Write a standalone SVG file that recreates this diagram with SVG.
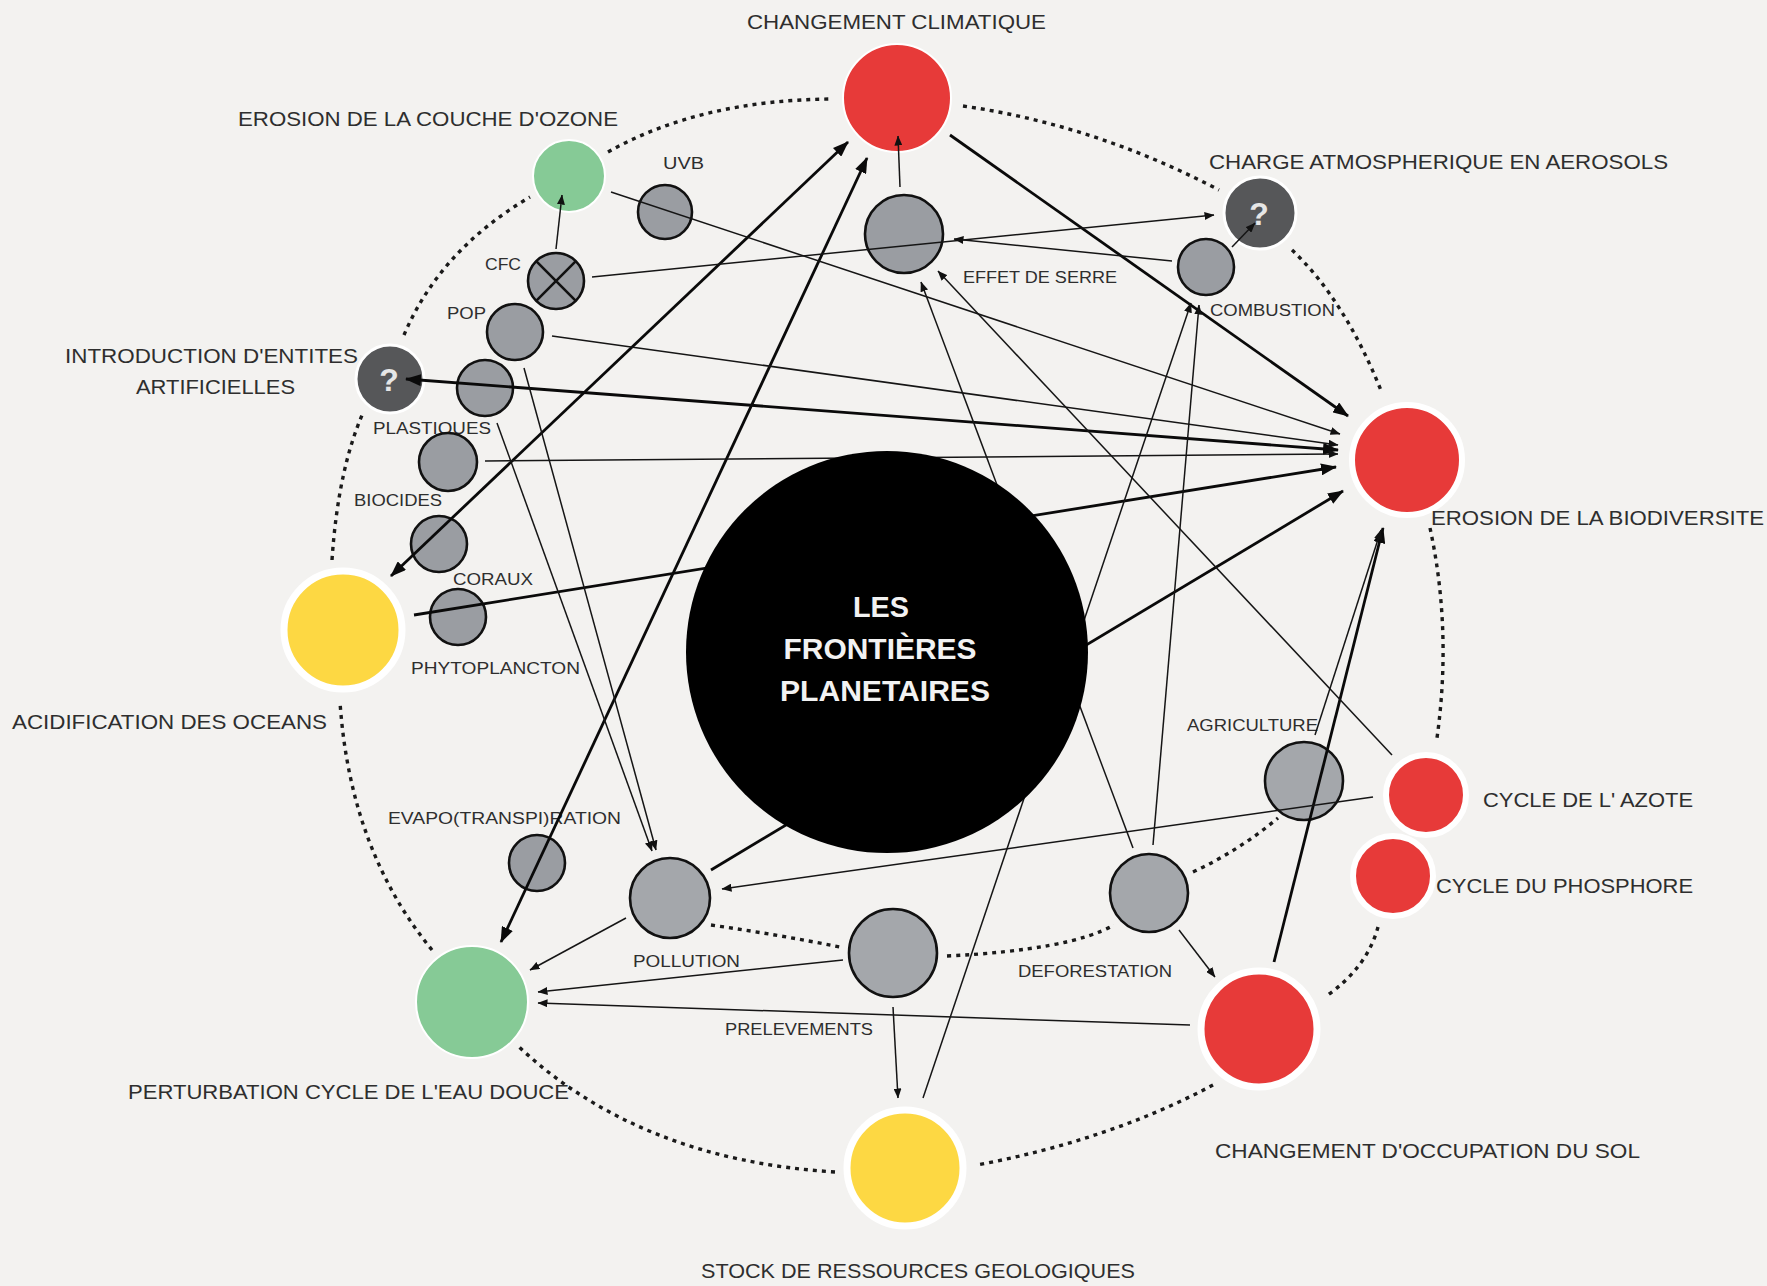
<svg xmlns="http://www.w3.org/2000/svg" width="1767" height="1286" viewBox="0 0 1767 1286">
<defs>
<style>
.lbl{font-family:"Liberation Sans",Arial,sans-serif;font-size:21px;fill:#2e2e2e}
.sl{font-family:"Liberation Sans",Arial,sans-serif;font-size:16px;fill:#2e2e2e}
.ring{fill:none;stroke:#1a1a1a;stroke-width:3.4;stroke-dasharray:4 5}
.sec{fill:#9a9da2;stroke:#111;stroke-width:2.6}
.sec2{fill:#a4a7ab;stroke:#111;stroke-width:2.6}
.thin{stroke:#151515;stroke-width:1.5;fill:none}
.thick{stroke:#0a0a0a;stroke-width:2.8;fill:none}
.red{fill:#e73a39;stroke:#fff}
.grn{fill:#86ca96;stroke:#fff}
.yel{fill:#fdd843;stroke:#fff}
.unk{fill:#565759;stroke:#fff;stroke-width:3}
.q{font-family:"Liberation Sans",Arial,sans-serif;font-size:32px;font-weight:bold;fill:#e6e6e6;text-anchor:middle}
.ctr{font-family:"Liberation Sans",Arial,sans-serif;font-size:29px;font-weight:bold;fill:#f2f2f2;text-anchor:middle}
</style>
<marker id="a1" viewBox="0 0 10 8" refX="9.5" refY="4" markerWidth="10" markerHeight="8" markerUnits="userSpaceOnUse" orient="auto-start-reverse"><path d="M0,0 L10,4 L0,8 z" fill="#111"/></marker>
<marker id="a2" viewBox="0 0 16 12" refX="15" refY="6" markerWidth="16" markerHeight="12" markerUnits="userSpaceOnUse" orient="auto-start-reverse"><path d="M0,0 L16,6 L0,12 z" fill="#0a0a0a"/></marker>
</defs>
<rect x="0" y="0" width="1767" height="1286" fill="#f3f2f0"/>

<g id="ring">
<path class="ring" d="M608 152 Q700 100 832 99"/>
<path class="ring" d="M963 106 Q1095 125 1219 190"/>
<path class="ring" d="M1292 250 Q1345 300 1382 393"/>
<path class="ring" d="M1430 528 Q1452 630 1437 738"/>
<path class="ring" d="M1378 927 Q1367 968 1325 997"/>
<path class="ring" d="M1213 1085 Q1110 1140 977 1165"/>
<path class="ring" d="M835 1172 Q640 1160 519 1047"/>
<path class="ring" d="M432 950 Q350 850 340 702"/>
<path class="ring" d="M332 560 Q338 470 363 413"/>
<path class="ring" d="M404 335 Q440 250 530 197"/>
<path class="ring" d="M711 925 Q780 935 840 947"/>
<path class="ring" d="M947 956 Q1070 950 1114 925"/>
<path class="ring" d="M1193 872 Q1240 850 1278 818"/>
</g>

<g id="n-uvb"><circle class="sec" cx="665" cy="212" r="27"/><text class="sl" x="663" y="169" textLength="41" lengthAdjust="spacingAndGlyphs">UVB</text></g>
<g id="n-cfc"><circle class="sec" cx="556" cy="281" r="28"/><path d="M536.2 261.2 L575.8 300.8 M575.8 261.2 L536.2 300.8" stroke="#111" stroke-width="2.6"/><text class="sl" x="485" y="270" textLength="36" lengthAdjust="spacingAndGlyphs">CFC</text></g>
<g id="n-pop"><circle class="sec" cx="515" cy="332" r="28"/><text class="sl" x="447" y="319" textLength="39" lengthAdjust="spacingAndGlyphs">POP</text></g>
<g id="n-plastiques"><circle class="sec" cx="485" cy="388" r="28"/><text class="sl" x="373" y="434" textLength="118" lengthAdjust="spacingAndGlyphs">PLASTIQUES</text></g>
<g id="n-biocides"><circle class="sec" cx="448" cy="462" r="29"/><text class="sl" x="354" y="506" textLength="88" lengthAdjust="spacingAndGlyphs">BIOCIDES</text></g>
<g id="n-coraux"><circle class="sec" cx="439" cy="544" r="28"/><text class="sl" x="453" y="585" textLength="80" lengthAdjust="spacingAndGlyphs">CORAUX</text></g>
<g id="n-phyto"><circle class="sec" cx="458" cy="617" r="28"/><text class="sl" x="411" y="674" textLength="169" lengthAdjust="spacingAndGlyphs">PHYTOPLANCTON</text></g>
<g id="n-serre"><circle class="sec" cx="904" cy="234" r="39"/><text class="sl" x="963" y="283" textLength="154" lengthAdjust="spacingAndGlyphs">EFFET DE SERRE</text></g>
<g id="n-combustion"><circle class="sec" cx="1206" cy="267" r="28"/><text class="sl" x="1210" y="316" textLength="125" lengthAdjust="spacingAndGlyphs">COMBUSTION</text></g>
<g id="n-agriculture"><circle class="sec2" cx="1304" cy="781" r="39"/><text class="sl" x="1187" y="731" textLength="131" lengthAdjust="spacingAndGlyphs">AGRICULTURE</text></g>
<g id="n-deforestation"><circle class="sec2" cx="1149" cy="893" r="39"/><text class="sl" x="1018" y="977" textLength="154" lengthAdjust="spacingAndGlyphs">DEFORESTATION</text></g>
<g id="n-prelevements"><circle class="sec2" cx="893" cy="953" r="44"/><text class="sl" x="725" y="1035" textLength="148" lengthAdjust="spacingAndGlyphs">PRELEVEMENTS</text></g>
<g id="n-pollution"><circle class="sec2" cx="670" cy="898" r="40"/><text class="sl" x="633" y="967" textLength="107" lengthAdjust="spacingAndGlyphs">POLLUTION</text></g>
<g id="n-evapo"><circle class="sec" cx="537" cy="863" r="28"/><text class="sl" x="388" y="824" textLength="233" lengthAdjust="spacingAndGlyphs">EVAPO(TRANSPI)RATION</text></g>

<g id="n-climat"><circle class="red" cx="897" cy="98" r="54" stroke-width="2"/><text class="lbl" x="747" y="29" textLength="299" lengthAdjust="spacingAndGlyphs">CHANGEMENT CLIMATIQUE</text></g>
<g id="n-ozone"><circle class="grn" cx="569" cy="176" r="36" stroke-width="2"/><text class="lbl" x="238" y="126" textLength="380" lengthAdjust="spacingAndGlyphs">EROSION DE LA COUCHE D'OZONE</text></g>
<g id="n-aerosols"><circle class="unk" cx="1260" cy="213" r="36"/><text class="q" x="1259" y="225">?</text><text class="lbl" x="1209" y="169" textLength="459" lengthAdjust="spacingAndGlyphs">CHARGE ATMOSPHERIQUE EN AEROSOLS</text></g>
<g id="n-entites"><circle class="unk" cx="390" cy="379" r="34"/><text class="q" x="389" y="391">?</text><text class="lbl" x="65" y="363" textLength="293" lengthAdjust="spacingAndGlyphs">INTRODUCTION D'ENTITES</text><text class="lbl" x="136" y="394" textLength="159" lengthAdjust="spacingAndGlyphs">ARTIFICIELLES</text></g>
<g id="n-biodiv"><circle class="red" cx="1407" cy="460" r="55" stroke-width="6"/><text class="lbl" x="1431" y="525" textLength="333" lengthAdjust="spacingAndGlyphs">EROSION DE LA BIODIVERSITE</text></g>
<g id="n-acid"><circle class="yel" cx="343" cy="630" r="59" stroke-width="7"/><text class="lbl" x="12" y="729" textLength="315" lengthAdjust="spacingAndGlyphs">ACIDIFICATION DES OCEANS</text></g>
<g id="n-azote"><circle class="red" cx="1426" cy="795" r="40" stroke-width="6"/><text class="lbl" x="1483" y="807" textLength="210" lengthAdjust="spacingAndGlyphs">CYCLE DE L' AZOTE</text></g>
<g id="n-phosphore"><circle class="red" cx="1393" cy="876" r="40" stroke-width="6"/><text class="lbl" x="1436" y="893" textLength="257" lengthAdjust="spacingAndGlyphs">CYCLE DU PHOSPHORE</text></g>
<g id="n-sol"><circle class="red" cx="1259" cy="1029" r="58" stroke-width="7"/><text class="lbl" x="1215" y="1158" textLength="425" lengthAdjust="spacingAndGlyphs">CHANGEMENT D'OCCUPATION DU SOL</text></g>
<g id="n-stock"><circle class="yel" cx="905" cy="1168" r="58" stroke-width="7"/><text class="lbl" x="701" y="1278" textLength="434" lengthAdjust="spacingAndGlyphs">STOCK DE RESSOURCES GEOLOGIQUES</text></g>
<g id="n-eau"><circle class="grn" cx="472" cy="1002" r="56" stroke-width="2"/><text class="lbl" x="128" y="1099" textLength="441" lengthAdjust="spacingAndGlyphs">PERTURBATION CYCLE DE L'EAU DOUCE</text></g>

<g id="connectors">
<line class="thick" x1="950" y1="135" x2="1348" y2="416" marker-end="url(#a2)"/>
<line class="thick" x1="391" y1="576" x2="848" y2="142" marker-start="url(#a2)" marker-end="url(#a2)"/>
<line class="thick" x1="501" y1="942" x2="867" y2="158" marker-start="url(#a2)" marker-end="url(#a2)"/>
<line class="thick" x1="406" y1="379" x2="1338" y2="450" marker-start="url(#a2)" marker-end="url(#a2)"/>
<line class="thick" x1="414" y1="615" x2="1336" y2="467" marker-end="url(#a2)"/>
<line class="thick" x1="711" y1="870" x2="1343" y2="491" marker-end="url(#a2)"/>
<line class="thick" x1="1274" y1="962" x2="1383" y2="528" marker-end="url(#a2)"/>
<line class="thin" x1="611" y1="192" x2="1340" y2="434" marker-end="url(#a1)"/>
<line class="thin" x1="592" y1="277" x2="1214" y2="215" marker-end="url(#a1)"/>
<line class="thin" x1="1172" y1="261" x2="954" y2="239" marker-end="url(#a1)"/>
<line class="thin" x1="900" y1="187" x2="898" y2="136" marker-end="url(#a1)"/>
<line class="thin" x1="556" y1="249" x2="562" y2="195" marker-end="url(#a1)"/>
<line class="thin" x1="1232" y1="247" x2="1255" y2="223" marker-end="url(#a1)"/>
<line class="thin" x1="552" y1="336" x2="1338" y2="445" marker-end="url(#a1)"/>
<line class="thin" x1="485" y1="461" x2="1338" y2="454" marker-end="url(#a1)"/>
<line class="thin" x1="497" y1="423" x2="652" y2="851" marker-end="url(#a1)"/>
<line class="thin" x1="524" y1="368" x2="656" y2="850" marker-end="url(#a1)"/>
<line class="thin" x1="1373" y1="797" x2="722" y2="889" marker-end="url(#a1)"/>
<line class="thin" x1="1392" y1="755" x2="938" y2="271" marker-end="url(#a1)"/>
<line class="thin" x1="1133" y1="848" x2="921" y2="282" marker-end="url(#a1)"/>
<line class="thin" x1="923" y1="1098" x2="1191" y2="303" marker-end="url(#a1)"/>
<line class="thin" x1="1153" y1="845" x2="1199" y2="305" marker-end="url(#a1)"/>
<line class="thin" x1="893" y1="1007" x2="898" y2="1098" marker-end="url(#a1)"/>
<line class="thin" x1="1179" y1="930" x2="1215" y2="977" marker-end="url(#a1)"/>
<line class="thin" x1="626" y1="918" x2="530" y2="970" marker-end="url(#a1)"/>
<line class="thin" x1="843" y1="960" x2="538" y2="992" marker-end="url(#a1)"/>
<line class="thin" x1="1190" y1="1025" x2="538" y2="1003" marker-end="url(#a1)"/>
<line class="thin" x1="1315" y1="735" x2="1381" y2="530" marker-end="url(#a1)"/>
</g>

<g id="n-centre"><circle cx="887" cy="652" r="201" fill="#000"/>
<text class="ctr" x="881" y="617" textLength="56" lengthAdjust="spacingAndGlyphs">LES</text>
<text class="ctr" x="880" y="659" textLength="193" lengthAdjust="spacingAndGlyphs">FRONTIÈRES</text>
<text class="ctr" x="885" y="701" textLength="210" lengthAdjust="spacingAndGlyphs">PLANETAIRES</text>
</g>
</svg>
